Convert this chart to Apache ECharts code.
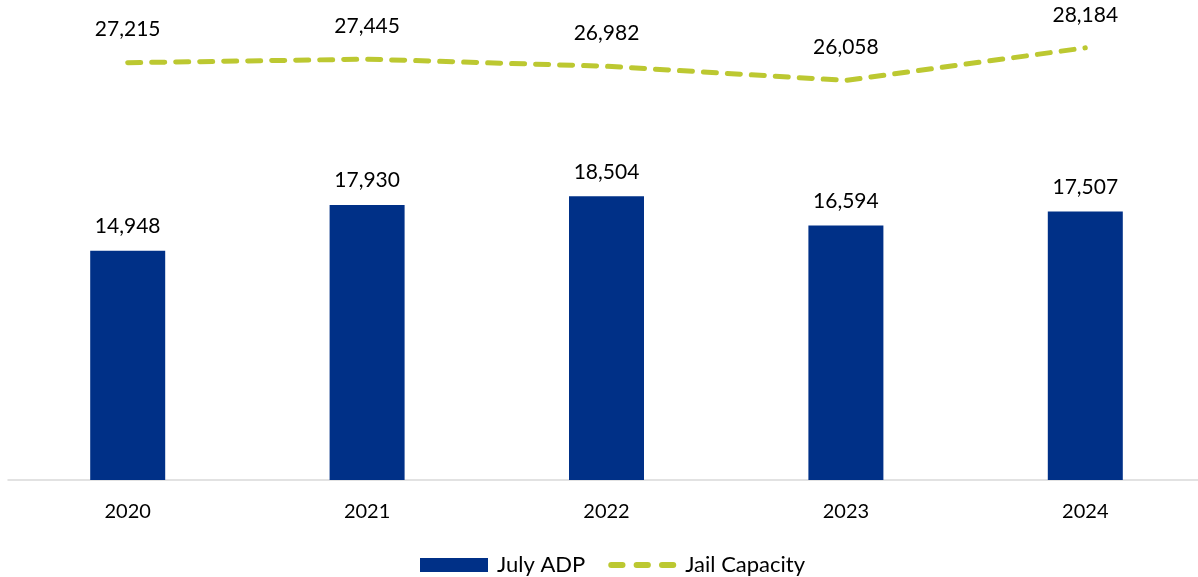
<!DOCTYPE html>
<html>
<head>
<meta charset="utf-8">
<script src="https://cdn.jsdelivr.net/npm/echarts@6/dist/echarts.min.js"></script>
<style>html,body{margin:0;padding:0;background:#fff;overflow:hidden;}#c{width:1198px;height:577px;}</style>
</head>
<body>
<div id="c"></div>
<script>
const categories = ['2020', '2021', '2022', '2023', '2024'];
const julyADP = [14948, 17930, 18504, 16594, 17507];
const jailCapacity = [27215, 27445, 26982, 26058, 28184];

const fmt = v => Number(v).toLocaleString('en-US');
const dashIcon = 'path://M3,0 h11 a3,3 0 0 1 0,6 h-11 a3,3 0 0 1 0,-6 z M28,0 h11 a3,3 0 0 1 0,6 h-11 a3,3 0 0 1 0,-6 z M53,0 h11 a3,3 0 0 1 0,6 h-11 a3,3 0 0 1 0,-6 z';
const chart = echarts.init(document.getElementById('c'));
chart.setOption({
  animation: false,
  textStyle: { fontFamily: 'Lato' },
  grid: { left: 8, right: -7, top: 20, bottom: 97, containLabel: false, outerBoundsMode: 'none' },
  legend: {
    bottom: -4,
    left: 415,
    itemGap: 23,
    itemWidth: 68,
    itemHeight: 14,
    symbolKeepAspect: true,
    textStyle: { fontSize: 22, color: '#000', fontFamily: 'Lato', padding: [0, 0, 0, 4] },
    data: [
      { name: 'July ADP', icon: 'rect' },
      { name: 'Jail Capacity', icon: dashIcon, itemStyle: { color: '#BCC831' } }
    ]
  },
  xAxis: {
    type: 'category',
    data: categories,
    axisLine: { lineStyle: { color: '#d9d9d9', width: 1.5 } },
    axisTick: { show: false },
    axisLabel: { fontSize: 20, color: '#000', margin: 22, fontFamily: 'Lato' }
  },
  yAxis: {
    type: 'value', min: 0, max: 30000, interval: 5000,
    show: false, splitLine: { show: false }
  },
  series: [
    {
      name: 'July ADP', type: 'bar', data: julyADP, barWidth: 75,
      itemStyle: { color: '#003087' },
      label: { show: true, position: 'top', distance: 14, fontSize: 21, color: '#000', formatter: p => fmt(p.value), fontFamily: 'Lato' }
    },
    {
      name: 'Jail Capacity', type: 'line', data: jailCapacity,
      showSymbol: true, symbol: 'circle', symbolSize: 1,
      lineStyle: { color: '#BCC831', width: 5, type: [13, 11], cap: 'round' },
      itemStyle: { color: '#BCC831' },
      label: { show: true, position: 'top', distance: 22, fontSize: 21, color: '#000', formatter: p => fmt(p.value), fontFamily: 'Lato' }
    }
  ]
});
</script>
</body>
</html>
